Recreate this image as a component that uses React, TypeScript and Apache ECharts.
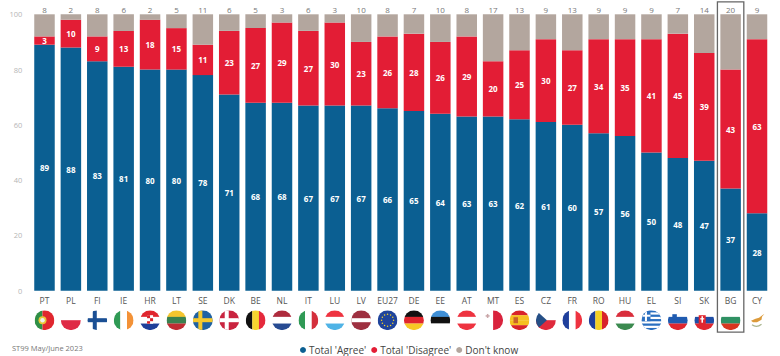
import React, { useEffect, useRef } from "react";
import * as echarts from "echarts";

const categories = ["PT","PL","FI","IE","HR","LT","SE","DK","BE","NL","IT","LU","LV","EU27","DE","EE","AT","MT","ES","CZ","FR","RO","HU","EL","SI","SK","BG","CY"];
const agree = [89,88,83,81,80,80,78,71,68,68,67,67,67,66,65,64,63,63,62,61,60,57,56,50,48,47,37,28];
const disagree = [3,10,9,13,18,15,11,23,27,29,27,30,23,26,28,26,29,20,25,30,27,34,35,41,45,39,43,63];
const dontKnow = [8,2,8,6,2,5,11,6,5,3,6,3,10,8,7,10,8,17,13,9,13,9,9,9,7,14,20,9];
const yTicks = [0,20,40,60,80,100];
const highlighted = ["BG"];
const sourceNote = "ST99 May/June 2023";

const r = (x: number, y: number, w: number, h: number, c: string) => `<rect x="${x}" y="${y}" width="${w}" height="${h}" fill="${c}"/>`;
const hs = (...c: string[]) => c.map((k, i) => r(0, (i * 40) / c.length, 40, 40 / c.length + 0.2, k)).join("");
const vs = (...c: string[]) => c.map((k, i) => r((i * 40) / c.length, 0, 40 / c.length + 0.2, 40, k)).join("");
const nordic = (bg: string, fg: string) => r(0, 0, 40, 40, bg) + r(11, 0, 8, 40, fg) + r(0, 16, 40, 8, fg);
const euStars = Array.from({ length: 12 }, (_, i) => {
  const a = (i * Math.PI) / 6;
  return `<circle cx="${20 + 12 * Math.cos(a)}" cy="${20 + 12 * Math.sin(a)}" r="1.5" fill="#f5d327"/>`;
}).join("");

const flagArt: Record<string, string> = {
  PT: r(0,0,16,40,"#2f8f46") + r(16,0,24,40,"#e0262e") + `<circle cx="16" cy="20" r="8" fill="#e9c637"/><circle cx="16" cy="20" r="4.5" fill="#eee"/>`,
  PL: hs("#ffffff", "#df2a45"),
  FI: nordic("#ffffff", "#1a4f94"),
  IE: vs("#2f9a55", "#ffffff", "#f39237"),
  HR: hs("#e0262e", "#ffffff", "#20409a") + r(14,10,12,17,"#ffffff") + r(14,10,6,6,"#d8232a") + r(20,16,6,6,"#d8232a") + r(14,22,6,5,"#d8232a"),
  LT: hs("#f4c52f", "#3a8150", "#bf2c33"),
  SE: nordic("#1f62a3", "#f5c92e"),
  DK: nordic("#c9243f", "#ffffff"),
  BE: vs("#111111", "#f6d530", "#e5293c"),
  NL: hs("#ae2b3d", "#ffffff", "#274b92"),
  IT: vs("#2f9a55", "#ffffff", "#d42f3c"),
  LU: hs("#ee3340", "#ffffff", "#4fb3e6"),
  LV: r(0,0,40,40,"#9e3040") + r(0,16,40,8,"#ffffff"),
  EU27: r(0,0,40,40,"#1f449c") + euStars,
  DE: hs("#111111", "#e0262e", "#f7c825"),
  EE: hs("#3f8fd6", "#111111", "#ffffff"),
  AT: hs("#ee3340", "#ffffff", "#ee3340"),
  MT: vs("#ffffff", "#d9233d") + r(5,10,8,3,"#c9a6a8") + r(7.5,7.5,3,8,"#c9a6a8"),
  ES: hs("#d8232a", "#f6c021", "#f6c021", "#d8232a") + r(8,14,9,12,"#c9622a"),
  CZ: hs("#ffffff", "#df2a3c") + `<polygon points="0,0 22,20 0,40" fill="#254f86"/>`,
  FR: vs("#1f3f9c", "#ffffff", "#ee3340"),
  RO: vs("#1f3f9c", "#f6d025", "#d8232a"),
  HU: hs("#d92e3c", "#ffffff", "#3b8a4f"),
  EL: r(0,0,40,40,"#2a6fc0") + [4.4,13.3,22.2,31.1].map(y => r(0,y,40,4.4,"#ffffff")).join("") + r(0,0,18,22,"#2a6fc0") + r(7,0,4,22,"#ffffff") + r(0,9,18,4,"#ffffff"),
  SI: hs("#ffffff", "#1f5bb0", "#e0262e") + r(9,8,9,11,"#1f5bb0"),
  SK: hs("#ffffff", "#1f4ea5", "#e0262e") + r(9,10,14,18,"#e0262e") + r(14.5,12,3,13,"#ffffff") + r(12,16,8,2.5,"#ffffff"),
  BG: hs("#ffffff", "#2f9163", "#d9361f"),
  CY: `<path d="M8 21 L17 17 L24 15 L35 7 L30 13 L29 19 L20 24 L12 24 Z" fill="#dc9a3a"/><path d="M10 29 Q19 36 29 28" stroke="#a9b48c" stroke-width="2.5" fill="none"/>`,
};

const flagUri = (code: string) =>
  "data:image/svg+xml," +
  encodeURIComponent(
    `<svg xmlns="http://www.w3.org/2000/svg" width="40" height="40" viewBox="0 0 40 40"><defs><clipPath id="c"><circle cx="20" cy="20" r="20"/></clipPath></defs><g clip-path="url(#c)">${flagArt[code]}</g></svg>`
  );

export default function App() {
  const ref = useRef<HTMLDivElement>(null);
  useEffect(() => {
    const chart = echarts.init(ref.current!, undefined, { renderer: "svg" });
    const FONT = "'Open Sans', sans-serif";
    const barBase = { type: "bar", stack: "total", barWidth: 20.5 };
    const inside = {
      show: true, position: "inside", color: "#fff", fontSize: 8, fontWeight: "bold", fontFamily: FONT,
    };
    chart.setOption({
      animation: false,
      backgroundColor: "#ffffff",
      grid: { left: 31.3, right: 9.8, top: 14.3, height: 276.4 },
      legend: {
        data: ["Total 'Agree'", "Total 'Disagree'", "Don't know"],
        left: 295, top: 340, itemWidth: 6, itemHeight: 6, itemGap: 5, icon: "circle",
        textStyle: { color: "#444", fontSize: 10, fontFamily: FONT, padding: [0, 0, 0, -2] },
      },
      xAxis: {
        type: "category", data: categories,
        axisLine: { show: false }, axisTick: { show: false },
        axisLabel: { color: "#555", fontSize: 8.5, margin: 5, interval: 0, fontFamily: FONT },
      },
      yAxis: {
        type: "value", min: 0, max: 100, interval: 20,
        splitLine: { show: false }, axisLine: { show: false }, axisTick: { show: false },
        axisLabel: {
          color: "#b5b5b5", fontSize: 7.5, margin: 9, fontFamily: FONT,
          formatter: (v: number) => (yTicks.includes(v) ? String(v) : ""),
        },
      },
      graphic: [
        { type: "text", x: 12, y: 344, style: { text: sourceNote, fill: "#777", fontSize: 7.5, fontFamily: FONT } },
      ],
      series: [
        { ...barBase, name: "Total 'Agree'", data: agree, itemStyle: { color: "#0B5F92" }, label: inside },
        { ...barBase, name: "Total 'Disagree'", data: disagree, itemStyle: { color: "#E31D35" }, label: inside },
        {
          ...barBase, name: "Don't know", data: dontKnow, itemStyle: { color: "#B3A69E" },
          label: { show: true, position: "top", distance: 1, color: "#777", fontSize: 8, fontFamily: FONT },
        },
        {
          type: "custom", name: "flags", silent: true, clip: false,
          data: categories.map((c, i) => [i]),
          encode: { x: 0 },
          renderItem: (_: any, api: any) => {
            const i = api.value(0);
            const [x, y] = api.coord([i, 0]);
            return {
              type: "image",
              style: { image: flagUri(categories[i]), x: x - 10, y: y + 19.5, width: 20, height: 20 },
            };
          },
        },
        {
          type: "custom", name: "highlight", silent: true, clip: false, z: 5,
          data: highlighted.map((c) => [categories.indexOf(c)]),
          encode: { x: 0 },
          renderItem: (_: any, api: any) => {
            const [x, y0] = api.coord([api.value(0), 0]);
            const [, y1] = api.coord([api.value(0), 100]);
            const half = api.size([1, 0])[0] / 2;
            return {
              type: "rect",
              shape: { x: x - half, y: y1 - 12.5, width: half * 2, height: y0 - y1 + 54 },
              style: { fill: "none", stroke: "#666", lineWidth: 1.3 },
            };
          },
        },
      ],
    });
    return () => chart.dispose();
  }, []);
  return <div ref={ref} style={{ width: 780, height: 356, position: "absolute", left: 0, top: 0 }} />;
}
